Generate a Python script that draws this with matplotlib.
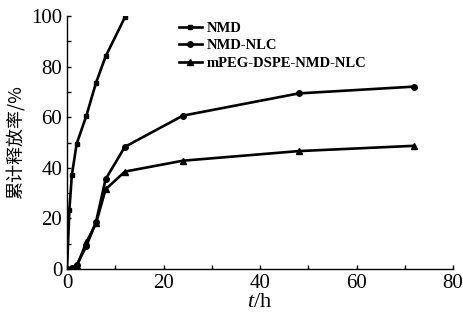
import matplotlib
matplotlib.use('Agg')
from matplotlib import pyplot as plt

# release data
t_nmd = [0, 0.5, 1, 2, 4, 6, 8, 12]
nmd = [0, 23.5, 37, 49.5, 60.5, 73.5, 84, 99.5]
t_nlc = [0, 1, 2, 4, 6, 8, 12, 24, 48, 72]
nmd_nlc = [0, 0.5, 1.5, 9, 18.5, 35.5, 48.3, 60.6, 69.4, 72.1]
peg_nlc = [0, 0.3, 1, 10.5, 18, 31.5, 38.5, 42.8, 46.6, 48.7]
labels = ['NMD', 'NMD-NLC', 'mPEG-DSPE-NMD-NLC']

plt.rcParams['font.family'] = ['Liberation Serif', 'Noto Sans CJK SC']
plt.rcParams['font.size'] = 13
plt.rcParams['mathtext.fontset'] = 'custom'
plt.rcParams['mathtext.it'] = 'Liberation Serif:italic'
plt.rcParams['mathtext.rm'] = 'Liberation Serif'

fig = plt.figure(figsize=(4.63, 3.22), dpi=100)
ax = fig.add_axes([67/463, 1 - 269/322, (453 - 67)/463, (269 - 16)/322])

ax.plot(t_nmd, nmd, 'k-', marker='s', ms=3.5, lw=1.9, label=labels[0])
ax.plot(t_nlc, nmd_nlc, 'k-', marker='o', ms=4, lw=1.9, label=labels[1])
ax.plot(t_nlc, peg_nlc, 'k-', marker='^', ms=4, lw=1.9, label=labels[2])

ax.set_xlim(0, 80)
ax.set_ylim(0, 100)
ax.set_xticks([0, 20, 40, 60, 80])
ax.set_xticks([10, 30, 50, 70], minor=True)
ax.set_yticks([0, 20, 40, 60, 80, 100])
ax.set_yticks([10, 30, 50, 70, 90], minor=True)
ax.tick_params(direction='in', which='both', length=3, width=1, labelsize=15)
for s in ['top', 'right']:
    ax.spines[s].set_visible(False)
for s in ['left', 'bottom']:
    ax.spines[s].set_linewidth(1)

ax.set_xlabel('$t$/h', fontsize=16, labelpad=0)
ax.set_ylabel('累计释放率/%', family=['Noto Sans CJK SC'], fontsize=13, labelpad=4)

leg = ax.legend(loc='upper left', bbox_to_anchor=(0.255, 1.03), frameon=False,
                handlelength=1.6, handletextpad=0.3, labelspacing=0.3,
                prop={'family': 'Liberation Serif', 'weight': 'bold', 'size': 10.5})

fig.savefig('out.png', dpi=100)
